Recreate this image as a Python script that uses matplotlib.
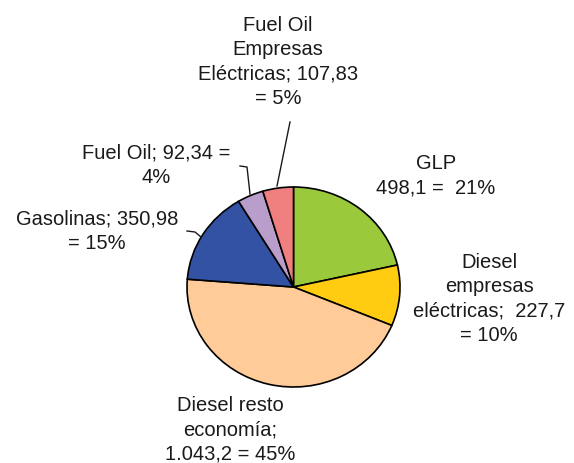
from matplotlib import pyplot as plt

labels = ['GLP', 'Diesel empresas eléctricas', 'Diesel resto economía',
          'Gasolinas', 'Fuel Oil', 'Fuel Oil Empresas Eléctricas']
values = [498.1, 227.7, 1043.2, 350.98, 92.34, 107.83]
colors = ['#9ACA3C', '#FFCC12', '#FFCC99', '#3352A3', '#B99DCB', '#F07F80']
label_texts = ['GLP\n498,1 =  21%',
               'Diesel\nempresas\neléctricas;  227,7\n= 10%',
               'Diesel resto\neconomía;\n1.043,2 = 45%',
               'Gasolinas; 350,98\n= 15%',
               'Fuel Oil; 92,34 =\n4%',
               'Fuel Oil\nEmpresas\nEléctricas; 107,83\n= 5%']

W, H = 574, 464
fig = plt.figure(figsize=(W / 100, H / 100), dpi=100)
plt.rcParams['font.family'] = ['Liberation Sans', 'DejaVu Sans']

# pie sits in a box (pixels): x 187..400, y 188..388
cx, cy, rx, ry = 293.5, 288, 106.5, 100
ax = fig.add_axes([(cx - rx) / W, 1 - (cy + ry) / H, 2 * rx / W, 2 * ry / H])
ax.pie(values, colors=colors, startangle=90, counterclock=False,
       wedgeprops=dict(edgecolor='black', linewidth=1.2))
ax.set_xlim(-1, 1)
ax.set_ylim(-1, 1)
ax.set_aspect('auto')
ax.axis('off')

# label positions in pixels (center x, center y)
pos = [(436, 176), (489, 299), (230, 430), (97, 231), (156, 165), (278, 62)]
for (x, y), t in zip(pos, label_texts):
    fig.text(x / W, 1 - y / H, t, ha='center', va='center', fontsize=14.5,
             color='#1a1a1a', linespacing=1.36, multialignment='center')

def px_line(xs, ys):
    fig.add_artist(plt.Line2D([x / W for x in xs], [1 - y / H for y in ys],
                              color='#1a1a1a', linewidth=1.0))

# leader lines
px_line([240, 247, 250], [167, 168, 195])
px_line([187, 195, 201], [232, 233, 238])
px_line([290, 277], [123, 187])

fig.savefig('out.png', dpi=100)
